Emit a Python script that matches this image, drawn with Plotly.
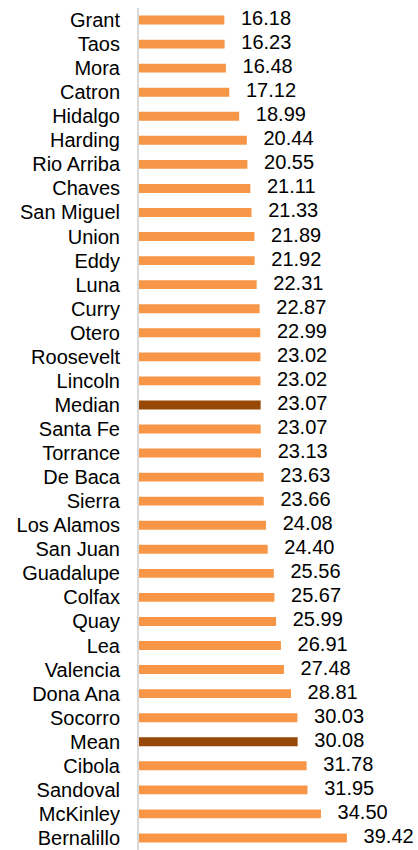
import plotly.graph_objects as go

counties = ["Grant", "Taos", "Mora", "Catron", "Hidalgo", "Harding", "Rio Arriba",
            "Chaves", "San Miguel", "Union", "Eddy", "Luna", "Curry", "Otero",
            "Roosevelt", "Lincoln", "Median", "Santa Fe", "Torrance", "De Baca",
            "Sierra", "Los Alamos", "San Juan", "Guadalupe", "Colfax", "Quay", "Lea",
            "Valencia", "Dona Ana", "Socorro", "Mean", "Cibola", "Sandoval",
            "McKinley", "Bernalillo"]
values = [16.18, 16.23, 16.48, 17.12, 18.99, 20.44, 20.55, 21.11, 21.33, 21.89,
          21.92, 22.31, 22.87, 22.99, 23.02, 23.02, 23.07, 23.07, 23.13, 23.63,
          23.66, 24.08, 24.40, 25.56, 25.67, 25.99, 26.91, 27.48, 28.81, 30.03,
          30.08, 31.78, 31.95, 34.50, 39.42]

colors = ["#984807" if c in ("Median", "Mean") else "#F79646" for c in counties]
font = dict(family="Liberation Sans, Arial", size=20, color="#000000")

fig = go.Figure()
fig.add_trace(go.Bar(
    y=counties, x=values, orientation="h",
    marker=dict(color=colors, line=dict(width=0)),
    hoverinfo="skip",
))
# value labels to the right of each bar
fig.add_trace(go.Scatter(
    y=counties, x=values, mode="text",
    text=["\u00a0\u00a0\u00a0%.2f" % v for v in values],
    textposition="middle right", textfont=font, cliponaxis=False,
    hoverinfo="skip",
))

fig.update_layout(
    width=418, height=850,
    margin=dict(l=139, r=0, t=8, b=0),
    plot_bgcolor="white", paper_bgcolor="white",
    bargap=0.63, showlegend=False, font=font,
)
fig.update_xaxes(range=[0, 52.9], visible=False, automargin=False)
fig.update_yaxes(range=[len(counties) - 0.5, -0.5], showline=True, linecolor="#D9D9D9",
                 linewidth=2, ticks="", ticklabelstandoff=13, showgrid=False,
                 automargin=False)

# drop the default body margin so the figure fills the window exactly
fig.write_html("out.html", config={"displayModeBar": False},
               post_script="document.body.style.margin='0';document.body.style.overflow='hidden';")
